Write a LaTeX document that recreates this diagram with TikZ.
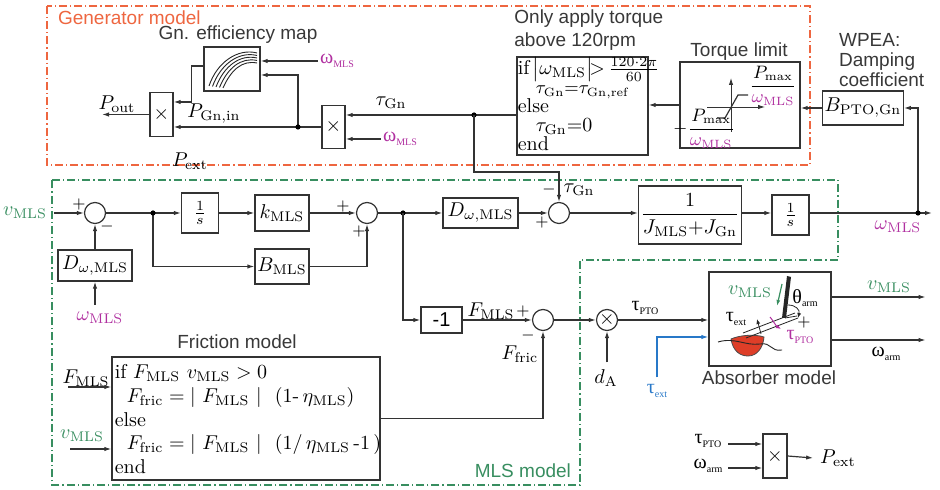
\documentclass[tikz,border=0pt]{standalone}
\usepackage{amsmath}
\usepackage{fontspec}
\setsansfont{Liberation Sans}
\newfontfamily\symfont{Liberation Serif}
\usetikzlibrary{arrows.meta}

\definecolor{genorange}{RGB}{238,102,64}
\definecolor{mlsgreen}{RGB}{56,142,96}
\definecolor{wmag}{RGB}{176,48,160}
\definecolor{extblue}{RGB}{40,120,200}
\definecolor{buoyred}{RGB}{222,62,40}

% upright greek symbol with a small roman index
\newcommand{\upsym}[2]{{\symfont #1}\raisebox{-0.45ex}{\symfont\fontsize{5}{5}\selectfont #2}}

\tikzset{
    blk/.style={
        draw=black!80,
        line width=0.6pt,
        fill=white,
        inner sep=1pt,
    },
    sumnode/.style={
        draw=black!80,
        line width=0.6pt,
        circle,
        minimum size=10.5pt,
        inner sep=0,
    },
    wire/.style={
        black!80,
        line width=0.6pt,
    },
    sig/.style={
        wire,
        -{Latex[length=3.5pt,width=2.2pt]},
    },
    jdot/.style={
        circle,
        fill=black,
        inner sep=0,
        minimum size=2.6pt,
    },
    lbl/.style={
        font=\sffamily\fontsize{9.5}{11.5}\selectfont,
        text=black!78,
    },
    sgn/.style={
        font=\footnotesize,
        inner sep=0,
    },
    subsys/.style={
        line width=0.6pt,
        dash pattern=on 4pt off 1.5pt on 0.6pt off 1.5pt,
    },
}

\begin{document}
\begin{tikzpicture}[x=0.5pt, y=-0.5pt]
\useasboundingbox (0,0) rectangle (940,490);

% subsystem frames
\draw[subsys, genorange] (47,6) rectangle (810,165);
\node[lbl, text=genorange, anchor=west] at (51,18) (genlbl) {Generator model};
\draw[subsys, mlsgreen] (52,180) -- (838,180) -- (838,260) -- (580,260) -- (580,485) -- (52,485) -- cycle;
\node[lbl, text=mlsgreen, anchor=east] at (578,471) (mlslbl) {MLS model};

% ---- generator ----
\node[blk, minimum width=28pt, minimum height=22pt] at (232,69) (effmap) {};
\foreach \i in {0,...,4}
    \draw[black!85, line width=0.45pt] (209+3.5*\i, 86+0.5*\i) .. controls (217+3.5*\i, 62+2*\i) and (238+\i, 48+3*\i) .. (257, 53+2.5*\i);
\node[lbl] at (238,35) (efflbl) {Gn. efficiency map};

\node[blk, minimum width=11.5pt, minimum height=22pt] at (161.5,114.5) (mulout) {$\times$};
\node[blk, minimum width=11.5pt, minimum height=21.5pt] at (333.5,127) (mulgn) {$\times$};
\coordinate (pj) at (298,127);
\coordinate (tj) at (474,115);
\coordinate (pout) at (102,114.5);

\node[inner sep=1pt] at (337,61) (wgn) {\textcolor{wmag}{\upsym{ω}{MLS}}};
\node[inner sep=1pt] at (400,139) (wgn2) {\textcolor{wmag}{\upsym{ω}{MLS}}};

\draw[sig] (wgn.west) -- (wgn.west -| effmap.east);
\draw[sig] (pj) |- ([yshift=-3pt]effmap.east);
\draw[sig] ([yshift=1.5pt]effmap.west) -- ++(-12,0) |- ([yshift=6.25pt]mulout.east);
\draw[sig] (mulgn.west) -- ([yshift=-6.25pt]mulout.east);
\draw[sig] (mulout.west) -- (pout);
\draw[sig] (tj) -- ([yshift=6pt]mulgn.east);
\draw[sig] (wgn2.west) -- ([yshift=-6pt]mulgn.east);
\node[jdot] at (pj) (pjdot) {};

\node at (117,104) (poutlbl) {$P_{\mathrm{out}}$};
\node at (214,114) (pinlbl) {$P_{\mathrm{Gn,in}}$};
\node at (190,161) (pextlbl) {$P_{\mathrm{ext}}$};
\node at (391,103) (tgnlbl) {$\tau_{\mathrm{Gn}}$};

% speed condition
\node[blk, minimum width=65.5pt, minimum height=49pt] at (582.5,106) (ifbox) {};
\node[anchor=north west, align=left, inner sep=0.5pt, font=\fontsize{10}{9.5}\selectfont] at (ifbox.north west) (ifcode) {%
    if\,$\bigl|\omega_{\mathrm{MLS}}\bigr|\!{>}\,\frac{120\cdot 2\pi}{60}$\\
    \hspace*{9pt}{\small$\tau_{\mathrm{Gn}}{=}\tau_{\mathrm{Gn,ref}}$}\\
    else\\
    \hspace*{9pt}$\tau_{\mathrm{Gn}}{=}0$\\
    end};
\node[lbl, anchor=west, align=left, inner sep=1pt] at (512,30) (iflbl) {Only apply torque\\above 120rpm};
\draw[wire] (tj) -- (tj -| ifbox.west);
\node[jdot] at (tj) (tjdot) {};

% torque limit
\node[blk, minimum width=60pt, minimum height=43pt] at (740,105) (tlim) {};
\node[lbl] at (739,52) (tlimlbl) {Torque limit};
\draw[sig, line width=0.4pt] (707,107) -- (765,107);
\draw[sig, line width=0.4pt] (731,132) -- (731,78);
\draw[wire] (717,118) -- (725,118) -- (738,95) -- (748,95);
\node at (773,86) (pmaxhi) {\small$\dfrac{P_{\max}}{\color{wmag}\omega_{\mathrm{MLS}}}$};
\node at (704,129) (pmaxlo) {\small$-\dfrac{P_{\max}}{\color{wmag}\omega_{\mathrm{MLS}}}$};

% damping coefficient
\node[blk, minimum width=39pt, minimum height=17pt] at (863,108) (bpto) {$B_{\mathrm{PTO,Gn}}$};
\node[lbl, anchor=west, align=left, font=\sffamily\fontsize{9.5}{10}\selectfont] at (832,60) (wpealbl) {WPEA:\\Damping\\coefficient};
\draw[sig] (bpto.west) -- (bpto.west -| tlim.east);
\draw[sig] (tlim.west) -- (tlim.west -| ifbox.east);

% ---- MLS ----
\node[text=mlsgreen] at (25,213) (vin) {$v_{\mathrm{MLS}}$};
\node[sumnode] at (95,213) (sum1) {};
\node[sgn] at (79,205) (s1p) {$+$};
\node[sgn] at (107,227) (s1m) {$-$};
\node[blk, minimum width=37pt, minimum height=15.5pt] at (95,265.5) (dg1) {$D_{\omega,\mathrm{MLS}}$};
\node[text=wmag] at (100,318) (wlow) {$\omega_{\mathrm{MLS}}$};
\draw[sig] (vin.east) -- (sum1.west);
\draw[sig] (dg1.north) -- (sum1.south);
\draw[sig] (dg1.south |- wlow.north) -- (dg1.south);

\coordinate (j1) at (153,213);
\node[blk, minimum width=18.5pt, minimum height=20pt] at (200,213) (int1) {$\frac{1}{s}$};
\node[blk, minimum width=27pt, minimum height=18pt] at (282,213) (kmls) {$k_{\mathrm{MLS}}$};
\node[blk, minimum width=27pt, minimum height=17.5pt] at (282,266.5) (bmls) {$B_{\mathrm{MLS}}$};
\node[sumnode] at (367,213) (sum2) {};
\node[sgn] at (343,207) (s2a) {$+$};
\node[sgn] at (359,232) (s2b) {$+$};
\draw[wire] (sum1.east) -- (j1);
\draw[sig] (j1) -- (int1.west);
\draw[sig] (int1.east) -- (kmls.west);
\draw[sig] (j1) |- (bmls.west);
\draw[sig] (kmls.east) -- (sum2.west);
\draw[sig] (bmls.east) -| (sum2.south);
\node[jdot] at (j1) (j1dot) {};

\coordinate (j2) at (403,213);
\node[blk, minimum width=37.5pt, minimum height=15pt] at (480.5,213) (dg2) {$D_{\omega,\mathrm{MLS}}$};
\node[sumnode] at (559,213) (sum3) {};
\node[sgn] at (549,190) (s3m) {$-$};
\node[sgn] at (542,223) (s3p) {$+$};
\node at (579,190) (tgn2) {$\tau_{\mathrm{Gn}}$};
\draw[wire] (sum2.east) -- (j2);
\draw[sig] (j2) -- (dg2.west);
\draw[sig] (dg2.east) -- (sum3.west);
\draw[sig] (tj) -- ++(0,57) -| (sum3.north);
\node[jdot] at (j2) (j2dot) {};

\node[blk, minimum width=44pt, minimum height=29pt] at (690,215) (inertia) {$\dfrac{1}{J_{\mathrm{MLS}}{+}J_{\mathrm{Gn}}}$};
\node[blk, minimum width=18.5pt, minimum height=20pt] at (790.5,215) (int2) {$\frac{1}{s}$};
\coordinate (wj) at (918,213);
\coordinate (wout) at (932,213);
\draw[sig] (sum3.east) -- (sum3.east -| inertia.west);
\draw[sig] (sum3.east -| inertia.east) -- (sum3.east -| int2.west);
\draw[sig] (sum3.east -| int2.east) -- (wout);
\draw[sig] (wj) |- (bpto.east);
\node[jdot] at (wj) (wjdot) {};
\node[text=wmag] at (898,227) (wlbl) {$\omega_{\mathrm{MLS}}$};

% friction path
\node[blk, font=\sffamily, minimum width=20.5pt, minimum height=13pt] at (441.5,320) (neg) {-1};
\node[sumnode] at (543,320) (sum4) {};
\node at (491,311) (fmlslbl) {$F_{\mathrm{MLS}}$};
\node[sgn] at (523,312) (s4p) {$+$};
\node[sgn] at (528,336) (s4m) {$-$};
\node at (520,354) (ffriclbl) {$F_{\mathrm{fric}}$};
\draw[sig] (j2) |- (neg.west);
\draw[sig] (neg.east) -- (sum4.west);

\node[blk, minimum width=134pt, minimum height=61.5pt] at (246,418.5) (fric) {};
\node[anchor=north west, align=left, inner sep=1.5pt, font=\fontsize{10}{11.8}\selectfont] at ([yshift=-2.5pt]fric.north west) (friccode) {%
    if $F_{\mathrm{MLS}}\ v_{\mathrm{MLS}} > 0$\\
    \hspace*{6pt}$F_{\mathrm{fric}} = |\ F_{\mathrm{MLS}}\ |\ \ (1$-$\,\eta_{\mathrm{MLS}})$\\
    else\\
    \hspace*{6pt}$F_{\mathrm{fric}} = |\ F_{\mathrm{MLS}}\ |\ \ (1/\,\eta_{\mathrm{MLS}}$\,-1\,$)$\\
    end};
\node[lbl] at (237,342) (friclbl) {Friction model};
\node at (86,378) (fmlsin) {$F_{\mathrm{MLS}}$};
\node[text=mlsgreen] at (82,436) (vmlsin) {$v_{\mathrm{MLS}}$};
\coordinate (fin) at (68,387);
\coordinate (vfin) at (70,449);
\draw[sig] (fin) -- (fin -| fric.west);
\draw[sig] (vfin) -- (vfin -| fric.west);
\draw[sig] (fric.east) -| (sum4.south);

% ---- absorber ----
\node[sumnode] at (607,320) (mulda) {$\times$};
\node at (606,378) (dalbl) {$d_{\mathrm{A}}$};
\draw[sig] (sum4.east) -- (mulda.west);
\draw[sig] (mulda.south |- dalbl.north) -- (mulda.south);

\node[blk, minimum width=61pt, minimum height=47pt] at (770,319) (absorb) {};
\node[lbl] at (769,378) (abslbl) {Absorber model};
\node at (645,308) (tptolbl) {\upsym{τ}{PTO}};
\node[text=extblue] at (657,391) (textlbl) {\upsym{τ}{ext}};
\draw[sig] (mulda.east) -- (mulda.east -| absorb.west);
\draw[sig, extblue] (textlbl.north) |- ([yshift=-9pt]absorb.west);

% buoy, arm and pile
\filldraw[fill=buoyred, draw=black!70, line width=0.4pt] (731,339) .. controls (733,352) and (741,356) .. (748,356) .. controls (757,356) and (763,348) .. (764,337) .. controls (755,334) and (740,335) .. (731,339) -- cycle;
\draw[black!85, line width=0.45pt] (718,342) .. controls (735,337) and (745,346) .. (760,344) .. controls (772,342) and (770,352) .. (782,350);
\draw[black!85, line width=0.4pt] (743,333) -- (795,313);
\draw[black!85, line width=0.4pt] (746,338) -- (798,318);
\fill[black!85] (782,318) -- (787,276) -- (791,277) -- (786,318) -- cycle;
\draw[black!85, line width=0.4pt] (785,318) -- (797,316);
\draw[black!85, line width=0.4pt, -{Latex[length=2.5pt,width=2pt]}] (788,305) .. controls (796,305) and (800,310) .. (798,318);
\node[sgn] at (804,323) (thplus) {$+$};
\node at (805,298) (tharm) {\upsym{θ}{arm}};
\node[text=mlsgreen] at (750,292) (varm) {$v_{\mathrm{MLS}}$};
\draw[mlsgreen, line width=0.6pt, -{Latex[length=3pt,width=2pt]}] (782,284) -- (777,306);
\node at (736,319) (textarm) {\upsym{τ}{ext}};
\draw[black!85, line width=0.4pt, -{Latex[length=2.5pt,width=2pt]}] (761,334) -- (757,319);
\node[text=wmag] at (800,337) (tptoarm) {\upsym{τ}{PTO}};
\draw[wmag, line width=0.5pt, -{Latex[length=2.5pt,width=2pt]}] (770,317) .. controls (774,322) and (776,326) .. (781,329);

% absorber outputs
\draw[sig] ([yshift=11pt]absorb.east) -- ++(94,0);
\draw[sig] ([yshift=-10.5pt]absorb.east) -- ++(94,0);
\node[text=mlsgreen] at (889,287) (voutlbl) {$v_{\mathrm{MLS}}$};
\node at (886,354) (warmlbl) {\upsym{ω}{arm}};

% ---- extracted power ----
\node[blk, minimum width=12pt, minimum height=22pt] at (775,456) (mulpow) {$\times$};
\node at (708,441) (tpto2) {\upsym{τ}{PTO}};
\node at (708,466) (warm2) {\upsym{ω}{arm}};
\node at (838,458) (pextout) {$P_{\mathrm{ext}}$};
\draw[sig] ([yshift=6pt, xshift=-17pt]mulpow.west) -- ([yshift=6pt]mulpow.west);
\draw[sig] ([yshift=-6pt, xshift=-17pt]mulpow.west) -- ([yshift=-6pt]mulpow.west);
\draw[sig] (mulpow.east) -- (pextout.west);

\end{tikzpicture}
\end{document}
